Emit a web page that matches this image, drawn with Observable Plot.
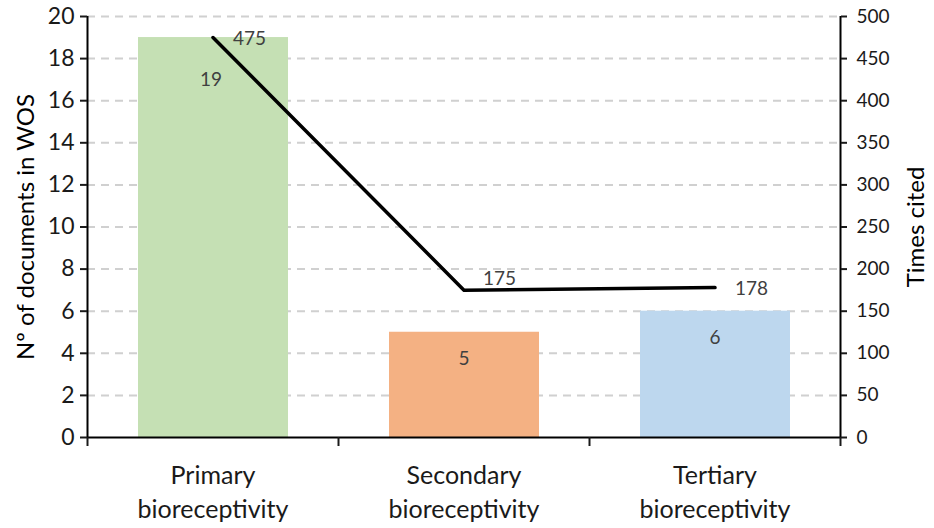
<!DOCTYPE html>
<html>
<head>
<meta charset="utf-8">
<script src="https://cdn.jsdelivr.net/npm/d3@7"></script>
<script src="https://cdn.jsdelivr.net/npm/@observablehq/plot@0.6"></script>
<style>
  html, body { margin: 0; padding: 0; background: #fff; }
</style>
</head>
<body>
<div id="chart"></div>
<script>
const categories = ["Primary\nbioreceptivity", "Secondary\nbioreceptivity", "Tertiary\nbioreceptivity"];
const documents = [19, 5, 6];
const timesCited = [475, 175, 178];
const barColors = ["#c5e0b4", "#f4b183", "#bdd7ee"];
const leftTicks = [0, 2, 4, 6, 8, 10, 12, 14, 16, 18, 20];
const rightTicks = [0, 50, 100, 150, 200, 250, 300, 350, 400, 450, 500];
const leftTitle = "Nº of documents in WOS";
const rightTitle = "Times cited";

const ratio = rightTicks[rightTicks.length - 1] / leftTicks[leftTicks.length - 1];
const data = categories.map((c, i) => ({i, cat: c, docs: documents[i], cites: timesCited[i], scaled: timesCited[i] / ratio, color: barColors[i]}));
const n = categories.length;
const labelColor = "#404040";

const chart = Plot.plot({
  width: 934,
  height: 528,
  marginLeft: 87,
  marginRight: 94,
  marginTop: 16,
  marginBottom: 91,
  style: {fontFamily: "Lato, 'Open Sans', sans-serif", fontSize: "20px", color: "#1a1a1a", background: "#fff"},
  x: {type: "linear", domain: [0, n], axis: null},
  y: {domain: [leftTicks[0], leftTicks[leftTicks.length - 1]], axis: null},
  marks: [
    // dashed gridlines
    Plot.ruleY(leftTicks.slice(1), {stroke: "#d0d0d0", strokeWidth: 2, strokeDasharray: "8,6"}),
    // bars
    Plot.rectY(data, {x1: d => d.i, x2: d => d.i + 1, y: "docs", fill: "color", insetLeft: 51, insetRight: 50}),
    // axis lines
    Plot.ruleX([0], {stroke: "#000", strokeWidth: 2}),
    Plot.ruleX([n], {stroke: "#000", strokeWidth: 2}),
    Plot.ruleY([0], {stroke: "#000", strokeWidth: 2}),
    // left axis
    Plot.axisY(leftTicks, {anchor: "left", tickSize: 7, tickPadding: 6, strokeWidth: 2, label: null, fontSize: 23}),
    // right axis (Times cited)
    Plot.axisY(rightTicks.map(v => v / ratio), {anchor: "right", tickSize: 6, tickPadding: 10, strokeWidth: 2, label: null, fontSize: 19, tickFormat: (d, i) => String(rightTicks[i])}),
    // category boundary ticks
    Plot.axisX(d3.range(n + 1), {anchor: "bottom", tickSize: 9, strokeWidth: 2, tickFormat: () => "", label: null}),
    // category labels
    Plot.axisX(d3.range(n).map(i => i + 0.5), {anchor: "bottom", tickSize: 0, tickPadding: 22, fontSize: 25, lineHeight: 1.36, tickFormat: (d, i) => categories[i], label: null}),
    // line
    Plot.line(data, {x: d => d.i + 0.5, y: "scaled", stroke: "#000", strokeWidth: 3.5}),
    // bar data labels
    Plot.text(data.filter(d => d.i === 0), {x: d => d.i + 0.5, y: "docs", text: d => String(d.docs), dy: 42, dx: -2, fill: labelColor, fontSize: 19}),
    Plot.text(data.filter(d => d.i > 0), {x: d => d.i + 0.5, y: "docs", text: d => String(d.docs), dy: 27, fill: labelColor, fontSize: 19}),
    // line data labels
    Plot.text(data.filter(d => d.i !== 1), {x: d => d.i + 0.5, y: "scaled", text: d => String(d.cites), dx: 20, dy: 1, textAnchor: "start", fill: labelColor, fontSize: 19}),
    Plot.text(data.filter(d => d.i === 1), {x: d => d.i + 0.5, y: "scaled", text: d => String(d.cites), dx: 19, dy: -11, textAnchor: "start", fill: labelColor, fontSize: 19}),
    // axis titles
    Plot.text([leftTitle], {frameAnchor: "left", textAnchor: "middle", rotate: -90, dx: -61, fontSize: 24, fill: "#000"}),
    Plot.text([rightTitle], {frameAnchor: "right", textAnchor: "middle", rotate: -90, dx: 76, fontSize: 24, fill: "#000"})
  ]
});
document.getElementById("chart").appendChild(chart);
</script>
</body>
</html>
